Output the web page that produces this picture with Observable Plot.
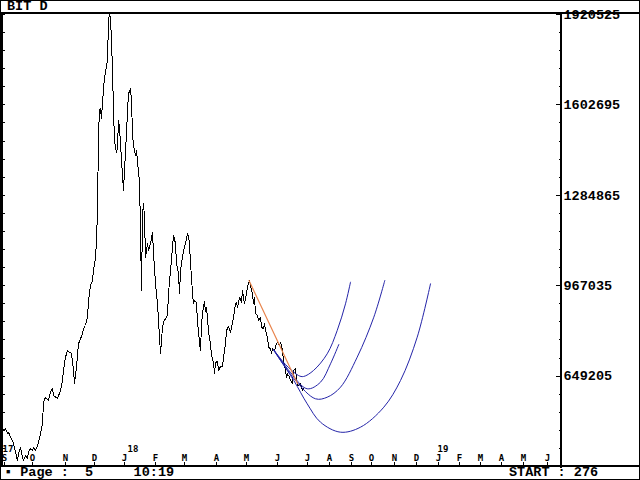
<!DOCTYPE html>
<html><head><meta charset="utf-8">
<script src="https://cdn.jsdelivr.net/npm/d3@7"></script>
<script src="https://cdn.jsdelivr.net/npm/@observablehq/plot@0.6"></script>
<style>
html,body{margin:0;padding:0;background:#fff;}
#wrap{position:relative;width:640px;height:480px;overflow:hidden;background:#fff;font-family:"Liberation Mono",monospace;font-weight:bold;font-size:13.5px;color:#000;}
#wrap svg{position:absolute;left:0;top:0;}
.ln{position:absolute;background:#000;}
.txt{position:absolute;white-space:pre;line-height:14px;}
</style></head><body>
<div id="wrap"></div>
<script>
// ---- data (bar index: 0 = first daily bar, Sept 2017) ----
const priceBar = [0,1,3,5,6,8,10,11,13,15,16,18,20,21,23,25,26,28,30,31,33,35,36,38,40,41,43,46,48,50,51,55,58,60,61,63,65,67,69,71,72,74,76,78,80,81,83,85,86,88,90,91,93,94,95,96,97,98,99,100,102,103,105,106,107,108,109,110,111,112,114,115,116,117,119,121,122,124,125,126,128,129,130,131,133,134,135,136,137,138,139,140,141,142,143,145,146,148,150,151,153,155,156,157,158,160,161,163,165,166,168,170,171,173,174,176,177,178,180,181,183,185,186,187,188,189,190,191,192,194,195,196,197,198,199,200,202,203,204,206,207,208,209,211,212,213,215,216,218,220,221,223,224,226,228,229,231,233,234,235,237,239,240,242,244,245,247,248,250,251,252,253,255,256,258,259,261,262,263,265,266,268,269,270,272,274,275,277,278,280,281,283,284,285,287,288,290,291,293,294,295,296,298,300,301];
const priceVal = [468500,458000,465000,447400,452000,434400,422800,412200,381700,352500,377100,399200,364100,352500,370100,359500,381700,394700,387600,399200,387600,405200,416800,447400,482600,556400,575000,563400,592600,605600,581000,570500,598600,633700,668900,715700,739200,733200,728700,668900,624200,680500,762800,780400,797900,815500,827100,856300,915000,967700,985300,1020500,1062700,1126000,1231400,1502000,1582900,1590000,1554900,1611100,1700100,1717700,1758800,1899400,1920525,1906500,1829100,1723600,1583000,1477500,1435300,1454000,1547900,1524300,1407200,1301700,1372100,1502100,1583000,1641700,1659300,1618200,1502100,1460000,1424800,1442400,1407200,1365000,1336900,1161100,950200,1213800,1256000,1207900,1067200,1115400,1090800,1115400,1155100,1080200,974800,904500,844700,786000,728700,821100,838700,851700,862200,939600,1020400,1102400,1143500,1115400,1045100,1009900,939600,1020400,1067200,1090800,1115400,1150600,1137600,1115400,1045100,996900,939600,904500,915000,909000,834100,809500,763800,739200,827100,869300,911500,876300,890400,809500,781400,763800,721900,697000,658400,697000,700500,668900,682200,682200,713800,763800,809500,823600,802800,821100,856300,903400,909000,891400,926600,909000,950400,903400,938600,962200,985300,967700,938600,903400,926600,869300,862200,844700,856300,821100,815500,833100,809500,786000,750800,745200,728700,745200,739200,762800,768400,756800,768400,739200,704100,668900,645300,657300,645300,633700,622100,668900,674900,640800,616100,616100,622100,598600,604600];

const trendBar = [246.5, 295];
const trendVal = [985300, 623200];

const curve1Bar = [271, 283, 296, 301, 311, 324.7, 334.7, 343, 348];
const curve1Val = [742700, 690000, 651300, 647800, 668900, 727600, 809500, 903400, 979300];
const curve2Bar = [271, 288, 304.7, 318, 328, 336.3];
const curve2Val = [742700, 661900, 604600, 627800, 692500, 760300];
const curve3Bar = [271, 293, 313, 324.7, 338, 354.7, 371.3, 382.3];
const curve3Val = [742700, 633700, 569400, 575000, 610200, 715700, 856300, 985300];
const curve4Bar = [271.3, 278, 291.3, 304.7, 318, 338, 358, 381.3, 398, 414.7, 428];
const curve4Val = [739200, 704100, 633700, 551800, 487100, 452000, 469600, 539900, 633700, 786000, 973700];

const yMajor = [1920525, 1602695, 1284865, 967035, 649205];
const yStep = 63566;

const monthLabel = ["S","O","N","D","J","F","M","A","M","J","J","A","S","O","N","D","J","F","M","A","M","J"];
const monthBar   = [2,30,63,92,122,153,182,214,244,275,305,327,349,369,392,414,436,457,478,499,521,545];
const yearLabel = ["17","18","19"];
const yearBar   = [0,125,435];

const titleText = "BIT D";
const statusLeft = "\u25AA Page :  5     10:19";
const statusRight = "START : 276";

// ---- build tables ----
const price = priceBar.map((b,i)=>({bar:b, v:priceVal[i]}));
const trend = trendBar.map((b,i)=>({bar:b, v:trendVal[i]}));
const curves = [[curve1Bar,curve1Val],[curve2Bar,curve2Val],[curve3Bar,curve3Val],[curve4Bar,curve4Val]]
  .flatMap(([bs,vs],k)=>bs.map((b,i)=>({id:k, bar:b, v:vs[i]})));
const yDomain = [331375, 1920525];
const yMinor = d3.range(yMajor[0], yDomain[0], -yStep);
const months = monthBar.map((b,i)=>({bar:b, label:monthLabel[i]}));
const years = yearBar.map((b,i)=>({bar:b, label:yearLabel[i]}));

const chart = Plot.plot({
  width: 640, height: 480,
  marginLeft: 2, marginRight: 79, marginTop: 14, marginBottom: 14,
  x: {type:"linear", domain:[0,559], axis:null},
  y: {type:"linear", domain:yDomain, axis:null},
  style: {background:"transparent", overflow:"visible"},
  marks: [
    Plot.ruleY(yMinor, {x1: 556.5, x2: 558.5, stroke:"black", shapeRendering:"crispEdges"}),
    Plot.ruleY(yMajor, {x1: 553.5, x2: 558.5, stroke:"black", shapeRendering:"crispEdges"}),
    Plot.ruleY(yMinor, {x1: 1, x2: 2.5, stroke:"black", shapeRendering:"crispEdges"}),
    Plot.axisY(yMajor, {anchor:"right", tickSize:0, tickPadding:2, tickFormat:d=>String(d), label:null,
      fontFamily:"Liberation Mono", fontSize:13.5, fontWeight:"bold", fill:"black"}),
    Plot.ruleX(monthBar, {insetTop: 448, stroke:"black", shapeRendering:"crispEdges"}),
    Plot.text(months, {x:"bar", text:"label", frameAnchor:"bottom", dy:-8.5, lineAnchor:"middle",
      fontFamily:"DejaVu Sans Mono", fontSize:9, fill:"black"}),
    Plot.text(years, {x:"bar", text:"label", frameAnchor:"bottom", dy:-17.5, lineAnchor:"middle", textAnchor:"start",
      fontFamily:"DejaVu Sans Mono", fontSize:9, fill:"black"}),
    Plot.line(price, {x:"bar", y:"v", stroke:"black", strokeWidth:1, shapeRendering:"crispEdges"}),
    Plot.line(curves, {x:"bar", y:"v", z:"id", stroke:"#2424a8", strokeWidth:1, curve:"catmull-rom"}),
    Plot.line(trend, {x:"bar", y:"v", stroke:"#e8844c", strokeWidth:1.2})
  ]
});

const wrap = document.getElementById("wrap");
wrap.appendChild(chart);
function line(l,t,w,h){const d=document.createElement("div");d.className="ln";
  d.style.left=l+"px";d.style.top=t+"px";d.style.width=w+"px";d.style.height=h+"px";wrap.appendChild(d);}
function txt(s,l,t){const d=document.createElement("div");d.className="txt";d.textContent=s;
  d.style.left=l+"px";d.style.top=t+"px";wrap.appendChild(d);}
// frame
line(0,0,640,1); line(0,479,640,1); line(0,0,1,480); line(639,0,1,480);
line(0,12,640,2); line(0,465,640,2);
line(0,12,3,455); line(560,12,2,456);
txt(titleText,7,0);
txt(statusLeft,4,466);
txt(statusRight,509,466);
</script></body></html>
